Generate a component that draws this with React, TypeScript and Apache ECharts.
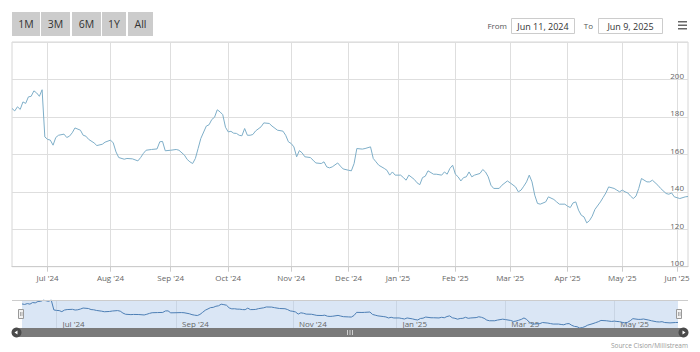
import React, { useEffect, useRef } from "react";
import * as echarts from "echarts";

// ---------- data ----------
const START_DATE = "2024-06-11";
const END_DATE = "2025-06-09";
const marketHolidays = [
  "2024-06-21", "2024-12-24", "2024-12-25", "2024-12-26", "2024-12-31",
  "2025-01-01", "2025-01-06", "2025-04-18", "2025-04-21", "2025-05-01",
  "2025-05-29", "2025-06-06",
];
const rangeButtons = ["1M", "3M", "6M", "1Y", "All"];
const fromLabel = "From";
const toLabel = "To";
const fromDate = "Jun 11, 2024";
const toDate = "Jun 9, 2025";
const sourceText = "Source Cision/Millistream";
const monthNames = ["Jan", "Feb", "Mar", "Apr", "May", "Jun", "Jul", "Aug", "Sep", "Oct", "Nov", "Dec"];
const yMin = 100;
const yMax = 220;
const yStep = 20;

// trading-day index of each reading, and the price read at it
const sampleDay = [
  0, 1, 2, 3, 4, 5, 6, 7, 8, 9, 10, 11, 12, 13, 14, 15, 16, 17, 19, 20, 21, 22, 23, 25, 26, 27, 28, 30, 31, 33,
  34, 36, 37, 38, 39, 41, 42, 44, 46, 47, 48, 49, 51, 53, 54, 55, 56, 58, 60, 61, 63, 64, 65, 66, 67, 68, 69, 71, 72, 73,
  74, 75, 76, 77, 78, 79, 80, 81, 82, 83, 84, 85, 86, 87, 88, 89, 91, 92, 94, 95, 97, 99, 100, 101, 102, 103, 104, 105, 106, 107,
  109, 110, 111, 113, 114, 115, 116, 117, 119, 120, 121, 123, 124, 125, 126, 128, 129, 131, 132, 133, 134, 136, 137, 138, 139, 140, 142, 143, 144, 145,
  147, 148, 149, 150, 151, 152, 154, 155, 157, 158, 159, 160, 161, 162, 163, 164, 165, 166, 167, 168, 169, 171, 172, 173, 174, 175, 176, 178, 179, 181,
  182, 184, 185, 186, 187, 188, 189, 190, 191, 192, 193, 195, 196, 198, 199, 200, 202, 203, 204, 205, 206, 207, 208, 209, 210, 211, 212, 213, 215, 216,
  217, 218, 220, 221, 222, 223, 224, 225, 226, 227, 228, 229, 230, 232, 233, 234, 236, 237, 239, 240, 241, 242, 244, 246, 247,
];
const closePrice = [
  184.5, 183.2, 185.4, 184.0, 188.0, 187.2, 190.7, 191.0, 193.9, 192.8, 191.0, 194.5, 169.3, 168.0, 167.6, 164.9, 169.0, 170.2, 170.8, 169.0, 169.7, 171.5, 174.1, 172.9, 170.2, 169.7, 168.0, 166.1, 164.7, 165.4,
  166.5, 167.6, 166.1, 161.3, 158.3, 157.4, 157.8, 157.6, 156.5, 158.3, 160.5, 162.2, 162.6, 162.9, 166.7, 166.9, 161.9, 162.2, 162.6, 162.2, 159.6, 157.3, 156.0, 155.1, 157.8, 163.1, 168.5, 175.1, 175.8, 178.6,
  179.8, 183.8, 182.7, 181.2, 174.5, 172.0, 172.3, 171.3, 171.2, 170.2, 169.9, 173.8, 170.2, 170.2, 170.6, 172.5, 174.7, 176.8, 176.5, 175.1, 172.9, 172.4, 170.2, 166.7, 165.8, 164.0, 158.7, 162.0, 160.8, 158.7,
  158.3, 156.9, 155.4, 155.1, 156.0, 153.3, 152.8, 153.3, 155.4, 153.7, 152.2, 151.5, 151.2, 155.1, 163.1, 162.8, 163.1, 164.0, 157.8, 156.0, 154.2, 152.5, 151.5, 148.9, 150.6, 148.9, 148.9, 147.6, 146.2, 148.9,
  146.6, 144.8, 143.8, 147.6, 148.3, 151.2, 149.4, 149.4, 148.9, 150.6, 149.4, 152.5, 154.2, 149.4, 148.0, 145.8, 147.6, 148.0, 150.6, 148.0, 148.9, 149.8, 151.9, 150.6, 148.0, 143.5, 141.8, 141.8, 143.5, 145.8,
  144.8, 142.6, 140.0, 140.9, 143.0, 145.3, 148.9, 145.3, 138.2, 133.8, 133.4, 134.6, 137.3, 135.9, 134.6, 133.4, 133.4, 132.3, 131.6, 134.1, 134.6, 130.2, 127.5, 126.6, 123.4, 124.6, 127.0, 130.6, 134.6, 137.0,
  139.4, 142.6, 141.8, 140.9, 140.0, 140.9, 140.0, 139.4, 137.7, 136.4, 137.7, 141.8, 147.1, 145.3, 145.3, 146.2, 143.5, 141.8, 139.1, 138.7, 139.4, 137.3, 136.4, 137.3, 137.5,
];

// ---------- helpers ----------
function buildTradingDays(): string[] {
  const out: string[] = [];
  const d = new Date(START_DATE + "T00:00:00Z");
  const end = new Date(END_DATE + "T00:00:00Z");
  while (d.getTime() <= end.getTime()) {
    const wd = d.getUTCDay();
    const s = d.toISOString().slice(0, 10);
    if (wd !== 0 && wd !== 6 && marketHolidays.indexOf(s) < 0) out.push(s);
    d.setUTCDate(d.getUTCDate() + 1);
  }
  return out;
}

const FONT = "'Open Sans', 'DejaVu Sans', sans-serif";

export default function App() {
  const ref = useRef<HTMLDivElement>(null);

  useEffect(() => {
    if (!ref.current) return;
    const chart = echarts.init(ref.current, undefined, { renderer: "svg" });
    const days = buildTradingDays();
    const monthStart = (i: number) => i > 0 && days[i].slice(5, 7) !== days[i - 1].slice(5, 7);
    const navStart = (i: number) => monthStart(i) && parseInt(days[i].slice(5, 7), 10) % 2 === 1;
    const fmt = (s: string) => `${monthNames[parseInt(s.slice(5, 7), 10) - 1]} '${s.slice(2, 4)}`;
    const points = sampleDay.map((d, i) => [days[d], closePrice[i]]);

    const btnX = [12, 41, 72, 102, 128];
    const btnW = [28, 29, 29, 24, 25];
    const graphics: any[] = [];
    rangeButtons.forEach((b, i) => {
      graphics.push({
        type: "rect",
        shape: { x: btnX[i], y: 12, width: btnW[i], height: 24 },
        style: { fill: "#cccccc" },
        silent: true,
      });
      graphics.push({
        type: "text",
        x: btnX[i] + btnW[i] / 2,
        y: 24,
        style: { text: b, fill: "#333333", font: `10.5px ${FONT}`, textAlign: "center", textVerticalAlign: "middle" },
        silent: true,
      });
    });
    graphics.push(
      { type: "text", x: 507, y: 25.5, style: { text: fromLabel, fill: "#555", font: `8px ${FONT}`, textAlign: "right", textVerticalAlign: "middle" } },
      { type: "rect", shape: { x: 511.5, y: 18.5, width: 63, height: 15 }, style: { fill: "#fff", stroke: "#cccccc", lineWidth: 1 } },
      { type: "text", x: 543, y: 26, style: { text: fromDate, fill: "#333", font: `9px ${FONT}`, textAlign: "center", textVerticalAlign: "middle" } },
      { type: "text", x: 593, y: 25.5, style: { text: toLabel, fill: "#555", font: `8px ${FONT}`, textAlign: "right", textVerticalAlign: "middle" } },
      { type: "rect", shape: { x: 598.5, y: 18.5, width: 64, height: 15 }, style: { fill: "#fff", stroke: "#cccccc", lineWidth: 1 } },
      { type: "text", x: 630.5, y: 26, style: { text: toDate, fill: "#333", font: `9px ${FONT}`, textAlign: "center", textVerticalAlign: "middle" } },
      { type: "rect", shape: { x: 678, y: 21, width: 9, height: 1.5 }, style: { fill: "#666" } },
      { type: "rect", shape: { x: 678, y: 24.5, width: 9, height: 1.5 }, style: { fill: "#666" } },
      { type: "rect", shape: { x: 678, y: 28, width: 9, height: 1.5 }, style: { fill: "#666" } },
      // navigator outline
      { type: "line", shape: { x1: 12, y1: 300.5, x2: 688, y2: 300.5 }, style: { stroke: "#cccccc", lineWidth: 1 }, z: 10 },
      // handles
      { type: "rect", shape: { x: 18.5, y: 309.5, width: 5, height: 9 }, style: { fill: "#f2f2f2", stroke: "#999", lineWidth: 1 }, z: 10 },
      { type: "line", shape: { x1: 20.5, y1: 312, x2: 20.5, y2: 316 }, style: { stroke: "#999", lineWidth: 0.8 }, z: 10 },
      { type: "line", shape: { x1: 22, y1: 312, x2: 22, y2: 316 }, style: { stroke: "#999", lineWidth: 0.8 }, z: 10 },
      { type: "rect", shape: { x: 676.5, y: 309.5, width: 5, height: 9 }, style: { fill: "#f2f2f2", stroke: "#999", lineWidth: 1 }, z: 10 },
      { type: "line", shape: { x1: 678.5, y1: 312, x2: 678.5, y2: 316 }, style: { stroke: "#999", lineWidth: 0.8 }, z: 10 },
      { type: "line", shape: { x1: 680, y1: 312, x2: 680, y2: 316 }, style: { stroke: "#999", lineWidth: 0.8 }, z: 10 },
      // scrollbar
      { type: "rect", shape: { x: 16, y: 328, width: 668, height: 9 }, style: { fill: "#7a7a7a" }, z: 10 },
      { type: "circle", shape: { cx: 16.5, cy: 332.5, r: 5 }, style: { fill: "#4a4a4a" }, z: 11 },
      { type: "polygon", shape: { points: [[14.5, 332.5], [17.5, 330.5], [17.5, 334.5]] }, style: { fill: "#fff" }, z: 12 },
      { type: "circle", shape: { cx: 683.5, cy: 332.5, r: 5 }, style: { fill: "#4a4a4a" }, z: 11 },
      { type: "polygon", shape: { points: [[685.5, 332.5], [682.5, 330.5], [682.5, 334.5]] }, style: { fill: "#fff" }, z: 12 },
      { type: "line", shape: { x1: 347.5, y1: 330, x2: 347.5, y2: 335 }, style: { stroke: "#cfcfcf", lineWidth: 1 }, z: 12 },
      { type: "line", shape: { x1: 350, y1: 330, x2: 350, y2: 335 }, style: { stroke: "#cfcfcf", lineWidth: 1 }, z: 12 },
      { type: "line", shape: { x1: 352.5, y1: 330, x2: 352.5, y2: 335 }, style: { stroke: "#cfcfcf", lineWidth: 1 }, z: 12 },
      { type: "text", x: 688, y: 345, style: { text: sourceText, fill: "#999", font: `6.5px ${FONT}`, textAlign: "right", textVerticalAlign: "middle" } },
    );

    chart.setOption({
      animation: false,
      textStyle: { fontFamily: FONT },
      grid: [
        { left: 12, right: 12, top: 42, height: 224.7, show: true, borderColor: "#d6d6d6", borderWidth: 1, containLabel: false },
        { left: 22, right: 22, top: 300, height: 28, show: true, backgroundColor: "#dae6f5", borderWidth: 0, containLabel: false },
      ],
      xAxis: [
        {
          type: "category",
          gridIndex: 0,
          data: days,
          boundaryGap: false,
          axisLine: { lineStyle: { color: "#cccccc" } },
          axisTick: { interval: (i: number) => monthStart(i), length: 5, lineStyle: { color: "#cccccc" } },
          splitLine: { show: true, interval: (i: number) => monthStart(i), lineStyle: { color: "#dedede" } },
          axisLabel: {
            interval: (i: number) => monthStart(i),
            formatter: fmt,
            color: "#666666",
            fontSize: 8,
            margin: 7,
            fontFamily: FONT,
          },
        },
        {
          type: "category",
          gridIndex: 1,
          data: days,
          boundaryGap: false,
          axisLine: { show: false },
          axisTick: { show: false },
          splitLine: { show: true, interval: (i: number) => navStart(i), lineStyle: { color: "#c9d5e4" } },
          axisLabel: {
            inside: true,
            interval: (i: number) => navStart(i),
            formatter: fmt,
            color: "#666666",
            fontSize: 8,
            margin: 1,
            align: "left",
            padding: [0, 0, 0, 6],
            fontFamily: FONT,
          },
        },
      ],
      yAxis: [
        {
          type: "value",
          gridIndex: 0,
          position: "right",
          min: yMin,
          max: yMax,
          interval: yStep,
          axisLine: { show: false },
          axisTick: { show: false },
          splitLine: { lineStyle: { color: "#dedede" } },
          axisLabel: {
            inside: true,
            margin: 4,
            color: "#666666",
            fontSize: 8,
            verticalAlign: "bottom",
            fontFamily: FONT,
            formatter: (v: number) => (v === yMax ? "" : String(v)),
          },
        },
        { type: "value", gridIndex: 1, min: "dataMin", max: "dataMax", show: false },
      ],
      series: [
        {
          type: "line",
          xAxisIndex: 0,
          yAxisIndex: 0,
          data: points,
          symbol: "none",
          lineStyle: { color: "#7eaec8", width: 1 },
          silent: true,
        },
        {
          type: "line",
          xAxisIndex: 1,
          yAxisIndex: 1,
          data: points,
          symbol: "none",
          clip: false,
          lineStyle: { color: "#4d7fb5", width: 1 },
          silent: true,
        },
      ],
      graphic: graphics,
    });
    return () => chart.dispose();
  }, []);

  return <div ref={ref} style={{ width: 700, height: 352, position: "absolute", left: 0, top: 0 }} />;
}
